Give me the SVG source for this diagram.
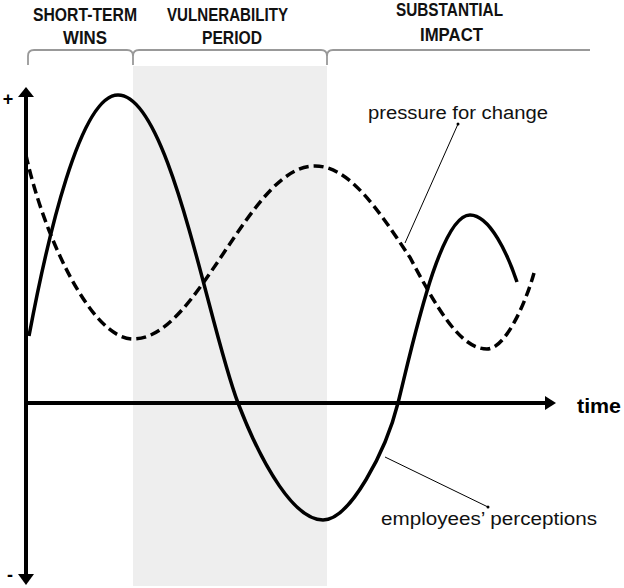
<svg xmlns="http://www.w3.org/2000/svg" width="624" height="588" viewBox="0 0 624 588">
<style>
.hdr{font-family:"Liberation Sans",Arial,sans-serif;font-weight:bold;font-size:19px;fill:#111;text-anchor:middle}
.lbl{font-family:"Liberation Sans",Arial,sans-serif;font-size:18px;fill:#111}
.brk{fill:none;stroke:#999;stroke-width:1.8}
.axis{stroke:#000;stroke-width:4;fill:none}
.solid{fill:none;stroke:#000;stroke-width:3.5}
.dash{fill:none;stroke:#000;stroke-width:3.5;stroke-dasharray:10 5}
.lead{stroke:#000;stroke-width:1;fill:none}
</style>
<rect x="0" y="0" width="624" height="588" fill="#fff"/>
<g id="vulnerability-band"><rect x="133" y="66" width="194" height="520" fill="#eeeeee"/></g>
<g id="phase-short-term">
<path class="brk" d="M28,65 L28,56 Q28,50 34,50 L127,50 Q133,50 133,56 L133,65"/>
<text class="hdr" x="85" y="21" textLength="104" lengthAdjust="spacingAndGlyphs">SHORT-TERM</text>
<text class="hdr" x="85" y="44" textLength="44" lengthAdjust="spacingAndGlyphs">WINS</text>
</g>
<g id="phase-vulnerability">
<path class="brk" d="M133,56 Q133,50 139,50 L321,50 Q327,50 327,56 L327,65"/>
<text class="hdr" x="227.5" y="21" textLength="121" lengthAdjust="spacingAndGlyphs">VULNERABILITY</text>
<text class="hdr" x="232" y="44" textLength="60" lengthAdjust="spacingAndGlyphs">PERIOD</text>
</g>
<g id="phase-substantial">
<path class="brk" d="M327,56 Q327,50 333,50 L590,50"/>
<text class="hdr" x="449.5" y="16" textLength="107" lengthAdjust="spacingAndGlyphs">SUBSTANTIAL</text>
<text class="hdr" x="451.5" y="41" textLength="63" lengthAdjust="spacingAndGlyphs">IMPACT</text>
</g>
<g id="axes">
<line class="axis" x1="26" y1="96" x2="26" y2="575"/>
<polygon points="26,87 18,97 34,97" fill="#000"/>
<polygon points="26,585 18,574 34,574" fill="#000"/>
<line class="axis" x1="26" y1="403" x2="546" y2="403"/>
<polygon points="556,403 545,396 545,410" fill="#000"/>
<text x="8" y="105" font-family="Liberation Sans,Arial,sans-serif" font-weight="bold" font-size="18" text-anchor="middle">+</text>
<text x="10" y="581" font-family="Liberation Sans,Arial,sans-serif" font-weight="bold" font-size="18" text-anchor="middle">-</text>
<text x="577" y="413" font-family="Liberation Sans,Arial,sans-serif" font-weight="bold" font-size="20" textLength="44" lengthAdjust="spacingAndGlyphs">time</text>
</g>
<g id="pressure-for-change">
<path class="dash" d="M26,155 C42,230 90,339 133,339 C165.8,339 193.6,297.9 224,252.5 C254.4,207.1 282.2,166 315,166 C349.2,166 378.2,209.5 410,257.5 C435.7,305.5 459.3,349 487,349 C505,349 525,305 534,273"/>
<text class="lbl" x="368" y="119" textLength="180" lengthAdjust="spacingAndGlyphs">pressure for change</text>
</g>
<g id="employees-perceptions">
<path class="solid" d="M29,336 C47,240 80,95 118,95 C170,95 208,325 238,403 C263,468 295,520 323,520 C350,520 386,451 398,403 C413,343 440,215 470,215 C490,215 508,255 517,282"/>
<text class="lbl" x="381" y="525" textLength="216" lengthAdjust="spacingAndGlyphs">employees’ perceptions</text>
</g>
<g id="connectors">
<line class="lead" x1="458" y1="124" x2="405" y2="243"/>
<circle cx="458" cy="124" r="1.5" fill="#000"/>
<line class="lead" x1="385" y1="457" x2="488" y2="507"/>
<circle cx="488" cy="507" r="1.5" fill="#000"/>
</g>
</svg>
